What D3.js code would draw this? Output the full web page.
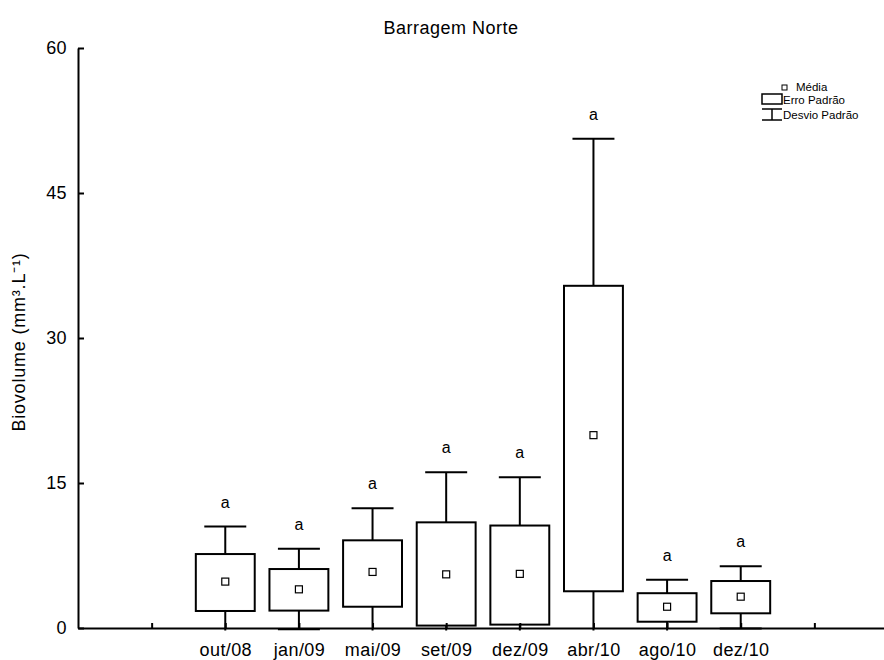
<!DOCTYPE html>
<html>
<head>
<meta charset="utf-8">
<script src="https://cdn.jsdelivr.net/npm/d3@7"></script>
<style>
  body { margin: 0; background: #fff; }
  svg { font-family: "Liberation Sans", Arial, sans-serif; }
</style>
</head>
<body>
<div class="BoxChart"></div>
<script>
// sampling dates
var categories = ["out/08", "jan/09", "mai/09", "set/09", "dez/09", "abr/10", "ago/10", "dez/10"];
// mean, standard error box (low/high), standard deviation whiskers (low/high)
var means  = [4.8, 4.0, 5.8, 5.55, 5.6, 19.95, 2.2, 3.24];
var seLow  = [1.76, 1.8, 2.2, 0.25, 0.35, 3.8, 0.65, 1.52];
var seHigh = [7.65, 6.1, 9.07, 10.93, 10.6, 35.4, 3.6, 4.86];
var sdLow  = [-1.0, -0.15, -0.9, -5.5, -4.5, -10.8, -0.6, -0.05];
var sdHigh = [10.5, 8.2, 12.4, 16.1, 15.6, 50.6, 5.0, 6.4];
var letters = ["a", "a", "a", "a", "a", "a", "a", "a"];
var yTicks = [0, 15, 30, 45, 60];

var W = 884, H = 660;
var margin = {left: 78, top: 48, bottom: 628, right: 888};

var svg = d3.select(".BoxChart").append("svg")
    .attr("width", W)
    .attr("height", H);

var x = d3.scaleLinear()
    .domain([-1, 10])
    .range([margin.left, margin.right]);

var y = d3.scaleLinear()
    .domain([0, 60])
    .range([margin.bottom, margin.top]);

var data = categories.map(function(c, i) {
  return {cat: c, pos: i + 1, mean: means[i], seLow: seLow[i], seHigh: seHigh[i],
          sdLow: sdLow[i], sdHigh: sdHigh[i], letter: letters[i]};
});

var boxW = x(0.8) - x(0);
var capW = x(0.57) - x(0);

// clip so whiskers below zero stop at the axis
svg.append("clipPath").attr("id", "plotClip")
  .append("rect")
    .attr("x", margin.left).attr("y", 0)
    .attr("width", W - margin.left).attr("height", margin.bottom + 2.5);

var plot = svg.append("g").attr("clip-path", "url(#plotClip)");

var g = plot.selectAll(".cat")
    .data(data)
    .enter().append("g")
    .attr("class", "cat");

// whisker stem
g.append("line")
    .attr("x1", function(d){ return x(d.pos); })
    .attr("x2", function(d){ return x(d.pos); })
    .attr("y1", function(d){ return y(d.sdLow); })
    .attr("y2", function(d){ return y(d.sdHigh); })
    .attr("stroke", "#000").attr("stroke-width", 2);

// caps
["sdLow", "sdHigh"].forEach(function(k) {
  g.append("line")
      .attr("x1", function(d){ return x(d.pos) - capW / 2; })
      .attr("x2", function(d){ return x(d.pos) + capW / 2; })
      .attr("y1", function(d){ return y(d[k]); })
      .attr("y2", function(d){ return y(d[k]); })
      .attr("stroke", "#000").attr("stroke-width", 2);
});

// standard error box
g.append("rect")
    .attr("x", function(d){ return x(d.pos) - boxW / 2; })
    .attr("width", boxW)
    .attr("y", function(d){ return y(d.seHigh); })
    .attr("height", function(d){ return y(d.seLow) - y(d.seHigh); })
    .attr("fill", "#fff")
    .attr("stroke", "#000").attr("stroke-width", 2);

// mean marker
g.append("rect")
    .attr("x", function(d){ return x(d.pos) - 3.5; })
    .attr("y", function(d){ return y(d.mean) - 3.5; })
    .attr("width", 7).attr("height", 7)
    .attr("fill", "#fff")
    .attr("stroke", "#000").attr("stroke-width", 1.2);

// significance letters
svg.selectAll(".letter")
    .data(data)
    .enter().append("text")
    .attr("class", "letter")
    .attr("x", function(d){ return x(d.pos); })
    .attr("y", function(d){ return y(d.sdHigh) - 19; })
    .attr("text-anchor", "middle")
    .style("font-size", "16px")
    .text(function(d){ return d.letter; });

// axes
var yAxis = d3.axisLeft(y)
    .tickValues(yTicks)
    .tickSizeInner(-6)
    .tickSizeOuter(0)
    .tickPadding(11);

var xAxis = d3.axisBottom(x)
    .tickValues(d3.range(0, 10))
    .tickSizeInner(-5)
    .tickSizeOuter(0)
    .tickPadding(15)
    .tickFormat(function(i){ return categories[i - 1] || ""; });

var gx = svg.append("g")
    .attr("transform", "translate(0," + margin.bottom + ")")
    .call(xAxis);

var gy = svg.append("g")
    .attr("transform", "translate(" + margin.left + ",0)")
    .call(yAxis);

[gx, gy].forEach(function(a) {
  a.select(".domain").attr("stroke-width", 2);
  a.selectAll(".tick line").attr("stroke-width", 2);
  a.selectAll(".tick text")
      .attr("fill", "#000")
      .style("font-family", "'Liberation Sans', Arial, sans-serif")
      .style("font-size", "18px")
      .style("letter-spacing", "0.4px");
});

// title and axis label
svg.append("text")
    .attr("x", 451).attr("y", 34)
    .attr("text-anchor", "middle")
    .style("font-size", "18px")
    .style("letter-spacing", "0.5px")
    .text("Barragem Norte");

svg.append("text")
    .attr("text-anchor", "middle")
    .attr("transform", "translate(25," + 342 + ")rotate(-90)")
    .style("font-size", "18px")
    .style("letter-spacing", "0.8px")
    .text("Biovolume (mm³.L⁻¹)");

// legend
var lg = svg.append("g").attr("transform", "translate(762,80)")
    .style("font-size", "11.5px");
lg.append("rect").attr("x", 20).attr("y", 5).attr("width", 5).attr("height", 5)
    .attr("fill", "#fff").attr("stroke", "#000").attr("stroke-width", 1);
lg.append("text").attr("x", 34).attr("y", 11).text("Média");
lg.append("rect").attr("x", 0).attr("y", 14).attr("width", 20).attr("height", 10)
    .attr("fill", "#fff").attr("stroke", "#000").attr("stroke-width", 1.5);
lg.append("text").attr("x", 21).attr("y", 24).text("Erro Padrão");
lg.append("line").attr("x1", 0).attr("x2", 20).attr("y1", 29).attr("y2", 29)
    .attr("stroke", "#000").attr("stroke-width", 1.5);
lg.append("line").attr("x1", 10).attr("x2", 10).attr("y1", 29).attr("y2", 40)
    .attr("stroke", "#000").attr("stroke-width", 1.5);
lg.append("line").attr("x1", 0).attr("x2", 20).attr("y1", 40).attr("y2", 40)
    .attr("stroke", "#000").attr("stroke-width", 1.5);
lg.append("text").attr("x", 21).attr("y", 39).text("Desvio Padrão");
</script>
</body>
</html>
